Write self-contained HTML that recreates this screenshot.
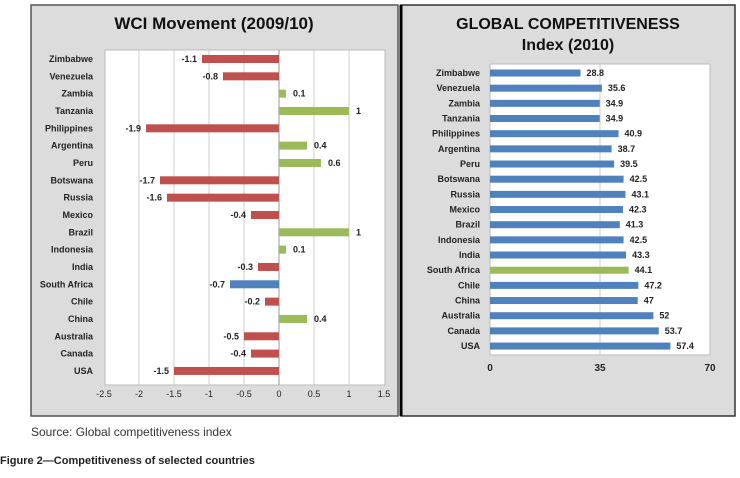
<!DOCTYPE html>
<html><head><meta charset="utf-8">
<style>
body{margin:0;background:#fff;font-family:"Liberation Sans",sans-serif;}
svg text{font-family:"Liberation Sans",sans-serif;}
</style></head>
<body>
<svg width="740" height="473" viewBox="0 0 740 473">
<g id="left">
<rect x="31" y="5" width="367" height="411" fill="#dcdcdc" stroke="#555" stroke-width="1.5"/>
<text x="214" y="29" text-anchor="middle" font-size="17" font-weight="bold" fill="#111">WCI Movement (2009/10)</text>
<rect x="105" y="50" width="280" height="335" fill="#fff" stroke="#bbb"/>
<g id="lg"></g>
</g>
<g id="right">
<rect x="401" y="5" width="334" height="411" fill="#dcdcdc" stroke="#333" stroke-width="1.5"/>
<line x1="401" y1="5" x2="401" y2="416" stroke="#000" stroke-width="3"/>
<text x="568" y="29" text-anchor="middle" font-size="16" font-weight="bold" fill="#111">GLOBAL COMPETITIVENESS</text>
<text x="568" y="50" text-anchor="middle" font-size="16" font-weight="bold" fill="#111">Index (2010)</text>
<rect x="490" y="64" width="220" height="291" fill="#fff" stroke="#bbb"/>
<g id="rg"></g>
</g>
<text x="31" y="436" font-size="12" fill="#333">Source: Global competitiveness index</text>
<text x="0" y="464" font-size="11" font-weight="bold" fill="#222">Figure 2—Competitiveness of selected countries</text>
</svg>
<script>
const countries=["Zimbabwe","Venezuela","Zambia","Tanzania","Philippines","Argentina","Peru","Botswana","Russia","Mexico","Brazil","Indonesia","India","South Africa","Chile","China","Australia","Canada","USA"];
const wciValues=[-1.1,-0.8,0.1,1,-1.9,0.4,0.6,-1.7,-1.6,-0.4,1,0.1,-0.3,-0.7,-0.2,0.4,-0.5,-0.4,-1.5];
const gciValues=[28.8,35.6,34.9,34.9,40.9,38.7,39.5,42.5,43.1,42.3,41.3,42.5,43.3,44.1,47.2,47,52,53.7,57.4];
const wciTicks=[-2.5,-2,-1.5,-1,-0.5,0,0.5,1,1.5];
const gciTicks=[0,35,70];
const NS="http://www.w3.org/2000/svg";
function mk(p,t,a,txt){const e=document.createElementNS(NS,t);for(const k in a)e.setAttribute(k,a[k]);if(txt!==undefined)e.textContent=txt;p.appendChild(e);return e;}
const lg=document.getElementById('lg'),rg=document.getElementById('rg');
const lx=v=>279+(v)*70, ly=i=>59+i*17.33;
const rx=v=>490+v*220/70, ry=i=>73+i*15.17;
wciTicks.forEach(t=>{
 if(t>-2.5&&t<1.5&&t!==0){const g=mk(lg,'line',{x1:lx(t),x2:lx(t),y1:50,y2:385,stroke:'#ccc'});
 
 }
 const e=mk(lg,'text',{x:lx(t),y:397,'text-anchor':'middle','font-size':9,fill:'#222'},String(t));
 
 
});
mk(lg,'line',{x1:lx(0),x2:lx(0),y1:50,y2:385,stroke:'#999'});
countries.forEach((c,i)=>{
 const v=wciValues[i],y=ly(i);
 const col=c==="South Africa"?'#4f81bd':(v<0?'#c0504d':'#9bbb59');
 const b=mk(lg,'rect',{x:Math.min(lx(0),lx(v)),y:y-4,width:Math.abs(lx(v)-lx(0)),height:8,fill:col});
 
 
 const l=mk(lg,'text',{x:93,y:y+3,'text-anchor':'end','font-size':9,'font-weight':'bold',fill:'#222'},c);
 
 
 const vl=mk(lg,'text',{x:v<0?lx(v)-5:lx(v)+7,y:y+3,'text-anchor':v<0?'end':'start','font-size':9,'font-weight':'bold',fill:'#222'},String(v));
 
 
});
gciTicks.forEach(t=>{
 if(t===35){const g=mk(rg,'line',{x1:rx(t),x2:rx(t),y1:64,y2:355,stroke:'#ccc'});
 
 }
 const e=mk(rg,'text',{x:rx(t),y:371,'text-anchor':'middle','font-size':10,'font-weight':'bold',fill:'#222'},String(t));
 
 
});
countries.forEach((c,i)=>{
 const v=gciValues[i],y=ry(i);
 const col=c==="South Africa"?'#9bbb59':'#4f81bd';
 const b=mk(rg,'rect',{x:rx(0),y:y-3.5,width:rx(v)-rx(0),height:7,fill:col});
 
 
 const l=mk(rg,'text',{x:480,y:y+3,'text-anchor':'end','font-size':9,'font-weight':'bold',fill:'#222'},c);
 
 
 const vl=mk(rg,'text',{x:rx(v)+6,y:y+3,'font-size':9,'font-weight':'bold',fill:'#222'},String(v));
 
 
});
</script>
</body></html>
